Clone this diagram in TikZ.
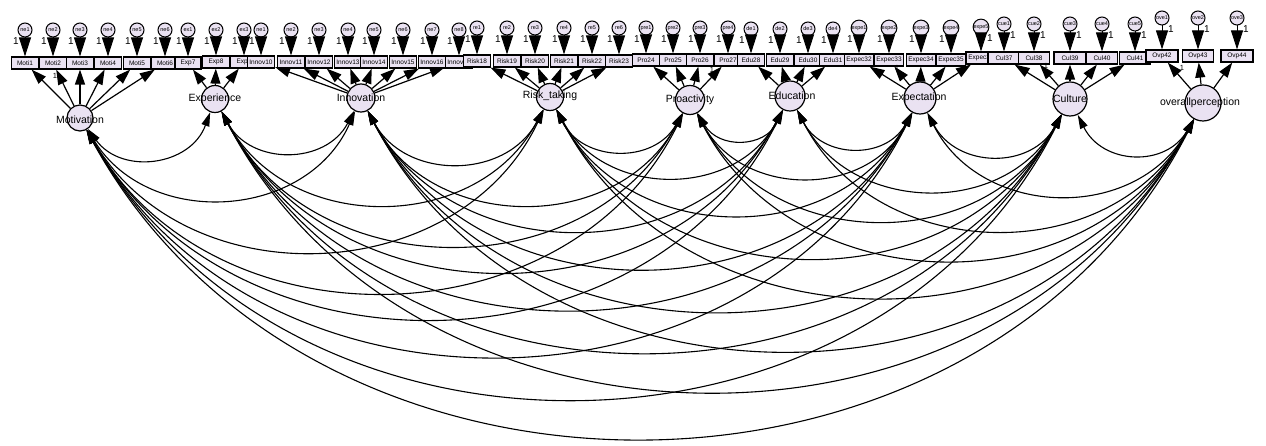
\documentclass[tikz,border=0pt]{standalone}
\usepackage{fontspec}
\setmainfont{Liberation Sans}
\usetikzlibrary{arrows.meta}
\definecolor{lav}{RGB}{234,226,242}
\begin{document}
\begin{tikzpicture}[x=1pt,y=-1pt,
 obs/.style={draw, line width=1.2pt, fill=lav, minimum height=12pt, inner sep=0pt, font=\fontsize{6.5}{6.5}\selectfont},
 err/.style={circle, draw, line width=1pt, fill=lav, minimum size=14pt, inner sep=0pt, font=\fontsize{5.5}{5.5}\selectfont},
 lat/.style={circle, draw, line width=1.2pt, fill=lav, inner sep=0pt},
 lattext/.style={font=\fontsize{10.5}{10.5}\selectfont, inner sep=0pt},
 errarr/.style={-{Triangle[length=19pt,width=12pt]}, line width=0.9pt},
 load/.style={-{Triangle[length=15pt,width=10pt]}, line width=1.2pt},
 cov/.style={{Triangle[length=14pt,width=8pt]}-{Triangle[length=14pt,width=8pt]}, line width=1.1pt},
 one/.style={font=\fontsize{10}{10}\selectfont, inner sep=0pt}
]
\fill[white] (0,0) rectangle (1266,446);
\useasboundingbox (0,0) rectangle (1266,446);

% observed variables and error terms
\foreach \n/\x/\e/\ey/\by/\dx/\w in {
Moti1/25/ne1/30/63/-9/27, Moti2/53/ne2/30/63/-9/27, Moti3/80/ne3/30/63/-9/27,
Moti4/108/ne4/30/63/-9/27, Moti5/137/ne5/30/63/-9/27, Moti6/165/ne6/30/63/-9/27,
Exp7/188/ex1/30/63/-9/26, Exp8/216/ex2/30/62/-9/27, Exp9/244/ex3/30/62/-9/27,
Innov10/261/ne1/30/62/-9/27, Innov11/291/ne2/30/62/-9/27, Innov12/319/ne3/30/62/-9/27,
Innov13/348/ne4/30/62/-9/27, Innov14/374/ne5/30/62/-9/27, Innov15/403/ne6/30/62/-9/27,
Innov16/432/ne7/30/62/-9/27, Innov17/459/ne8/30/62/-9/27,
Risk18/477/re1/28/61/-9/27, Risk19/507/re2/28/61/-9/27, Risk20/535/re3/28/61/-9/27,
Risk21/564/re4/28/61/-9/27, Risk22/592/re5/28/61/-9/27, Risk23/619/re6/28/61/-9/27,
Pro24/646/pre1/28/60/-9/27, Pro25/673/pre2/28/60/-9/27, Pro26/700/pre3/28/60/-9/27,
Pro27/728/pre4/28/60/-9/27,
Edu28/751/de1/29/60/-9/27, Edu29/780/de2/29/60/-9/27, Edu30/808/de3/29/60/-9/27,
Edu31/833/de4/29/60/-9/27,
Expec32/859/expe1/28/60/-9/29, Expec33/889/expe2/28/60/-9/29, Expec34/921/expe3/28/60/-9/29,
Expec35/951/expe4/28/60/-9/29, Expec36/981/expe5/27/58/9/30,
Cul37/1004/cue1/24/58/9/32, Cul38/1034/cue2/24/58/9/31, Cul39/1070/cue3/24/58/9/32,
Cul40/1102/cue4/24/58/9/31, Cul41/1135/cue5/24/58/9/31,
Ovp42/1162/ove1/18/56/9/32, Ovp43/1198/ove2/18/56/9/31, Ovp44/1237/ove3/18/56/9/32}
{
  \node[obs, minimum width=\w pt] (\n) at (\x,\by) {\n};
  \node[err] (e\n) at (\x,\ey) {\e};
  \draw[errarr] (e\n) -- (\n);
  \node[one] (o\n) at (\x+\dx,\ey+11) {1};
}

% fixed loading labels
\node[one, font=\fontsize{7.5}{7.5}\selectfont] (f1) at (55,76) {1};
\node[one, font=\fontsize{7.5}{7.5}\selectfont] (f2) at (712,70) {1};
\node[one, font=\fontsize{7.5}{7.5}\selectfont] (f3) at (897,68) {1};
\node[one, font=\fontsize{7.5}{7.5}\selectfont] (f4) at (1046,66) {1};
\node[one, font=\fontsize{7.5}{7.5}\selectfont] (f5) at (1182,68) {1};

% latent variables
\node[lat, minimum size=26pt] (mot) at (80,118) {};
\node[lat, minimum size=27pt] (exp) at (215,99) {};
\node[lat, minimum size=28pt] (inn) at (361,98) {};
\node[lat, minimum size=27pt] (risk) at (550,97) {};
\node[lat, minimum size=29pt] (pro) at (690,100) {};
\node[lat, minimum size=30pt] (edu) at (790,96) {};
\node[lat, minimum size=32pt] (expec) at (920,98) {};
\node[lat, minimum size=34pt] (cul) at (1070,99) {};
\node[lat, minimum size=36pt] (ovp) at (1203,103) {};

% loadings
\foreach \t in {Moti1,Moti2,Moti3,Moti4,Moti5,Moti6} \draw[load] (mot) -- (\t);
\foreach \t in {Exp7,Exp8,Exp9} \draw[load] (exp) -- (\t);
\foreach \t in {Innov10,Innov11,Innov12,Innov13,Innov14,Innov15,Innov16,Innov17} \draw[load] (inn) -- (\t);
\foreach \t in {Risk18,Risk19,Risk20,Risk21,Risk22,Risk23} \draw[load] (risk) -- (\t);
\foreach \t in {Pro24,Pro25,Pro26,Pro27} \draw[load] (pro) -- (\t);
\foreach \t in {Edu28,Edu29,Edu30,Edu31} \draw[load] (edu) -- (\t);
\foreach \t in {Expec32,Expec33,Expec34,Expec35,Expec36} \draw[load] (expec) -- (\t);
\foreach \t in {Cul37,Cul38,Cul39,Cul40,Cul41} \draw[load] (cul) -- (\t);
\foreach \t in {Ovp42,Ovp43,Ovp44} \draw[load] (ovp) -- (\t);

% covariances
\foreach \a/\ax/\ay [count=\i] in {mot/80/118, exp/215/99, inn/361/98, risk/550/97, pro/690/100, edu/790/96, expec/920/98, cul/1070/99, ovp/1203/103} {
  \foreach \b/\bx/\by [count=\j] in {mot/80/118, exp/215/99, inn/361/98, risk/550/97, pro/690/100, edu/790/96, expec/920/98, cul/1070/99, ovp/1203/103} {
    \ifnum\j>\i
      \pgfmathsetmacro\ph{atan2(\by-\ay,\bx-\ax)}
      \pgfmathsetmacro\dd{100*veclen((\bx-\ax)/100,(\by-\ay)/100)}
      \pgfmathsetmacro\kk{0.42*\dd}
      \pgfmathsetmacro\pa{\ph+62}
      \pgfmathsetmacro\pb{\ph+118}
      \pgfmathsetmacro\cax{\kk*cos(\pa)}
      \pgfmathsetmacro\cay{\kk*sin(\pa)}
      \pgfmathsetmacro\cbx{\kk*cos(\pb)}
      \pgfmathsetmacro\cby{\kk*sin(\pb)}
      \pgfmathtruncatemacro\sa{mod(720-\pa,360)}
      \pgfmathtruncatemacro\sb{mod(720-\pb,360)}
      \draw[cov] (\a.\sa) .. controls +(\cax,\cay) and +(\cbx,\cby) .. (\b.\sb);
    \fi
  }
}

% latent labels
\node[lattext] (tmot) at (80,120) {Motivation};
\node[lattext] (texp) at (215,99) {Experience};
\node[lattext] (tinn) at (361,98) {Innovation};
\node[lattext] (trisk) at (550,96) {Risk\_taking};
\node[lattext] (tpro) at (690,100) {Proactivity};
\node[lattext] (tedu) at (792,96) {Education};
\node[lattext] (texpec) at (919,98) {Expectation};
\node[lattext] (tcul) at (1070,99) {Culture};
\node[lattext] (tovp) at (1200,103) {overallperception};
\end{tikzpicture}
\end{document}
